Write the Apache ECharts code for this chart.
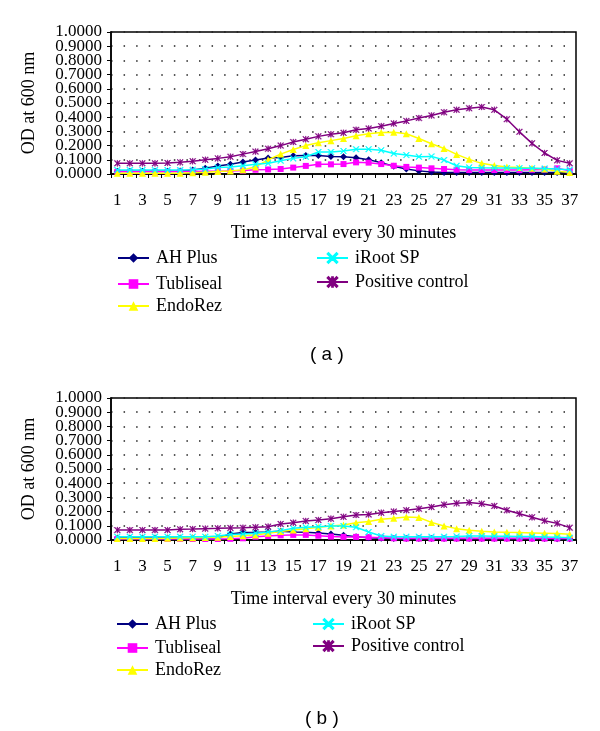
<!DOCTYPE html>
<html><head><meta charset="utf-8">
<script src="https://cdn.jsdelivr.net/npm/echarts@6/dist/echarts.min.js"></script>
<style>html,body{margin:0;padding:0;background:#fff}#c{width:600px;height:731px}</style>
</head><body><div id="c"></div>
<script>
const categories = ['1','2','3','4','5','6','7','8','9','10','11','12','13','14','15','16','17','18','19','20','21','22','23','24','25','26','27','28','29','30','31','32','33','34','35','36','37'];
const yTickLabels = ['0.0000','0.1000','0.2000','0.3000','0.4000','0.5000','0.6000','0.7000','0.8000','0.9000','1.0000'];
const seriesNames = ['AH Plus','Tubliseal','EndoRez','iRoot SP','Positive control'];

// Panel (a)
const ahPlusA = [0.02,0.02,0.02,0.02,0.02,0.022,0.028,0.04,0.056,0.069,0.085,0.098,0.112,0.117,0.128,0.131,0.13,0.124,0.122,0.115,0.1,0.08,0.055,0.035,0.022,0.014,0.01,0.01,0.01,0.01,0.01,0.01,0.01,0.01,0.01,0.01,0.009];
const tubliA = [0.015,0.015,0.015,0.015,0.016,0.017,0.018,0.019,0.02,0.022,0.024,0.03,0.032,0.035,0.045,0.057,0.068,0.068,0.07,0.082,0.08,0.07,0.058,0.05,0.045,0.04,0.035,0.03,0.028,0.028,0.028,0.028,0.028,0.03,0.032,0.04,0.022];
const endoA = [0.005,0.005,0.005,0.005,0.005,0.006,0.008,0.012,0.018,0.022,0.03,0.05,0.1,0.14,0.173,0.2,0.22,0.235,0.25,0.27,0.283,0.292,0.294,0.283,0.25,0.213,0.18,0.138,0.103,0.075,0.06,0.05,0.045,0.04,0.035,0.02,0.01];
const irootA = [0.028,0.028,0.028,0.028,0.028,0.028,0.03,0.035,0.045,0.05,0.058,0.068,0.075,0.094,0.11,0.122,0.155,0.155,0.162,0.175,0.175,0.167,0.144,0.133,0.122,0.124,0.098,0.058,0.046,0.044,0.043,0.042,0.041,0.04,0.038,0.035,0.03];
const posA = [0.075,0.075,0.075,0.075,0.078,0.082,0.09,0.1,0.11,0.122,0.14,0.158,0.178,0.2,0.225,0.245,0.265,0.28,0.29,0.311,0.32,0.337,0.356,0.374,0.394,0.412,0.435,0.452,0.463,0.472,0.452,0.386,0.297,0.216,0.148,0.096,0.075];

// Panel (b)
const ahPlusB = [0.014,0.014,0.014,0.014,0.014,0.014,0.014,0.014,0.015,0.042,0.052,0.052,0.056,0.061,0.056,0.054,0.05,0.042,0.033,0.023,0.016,0.012,0.01,0.01,0.01,0.01,0.01,0.01,0.01,0.01,0.01,0.01,0.01,0.01,0.01,0.009,0.009];
const tubliB = [0.007,0.007,0.007,0.007,0.007,0.007,0.007,0.007,0.007,0.008,0.012,0.023,0.028,0.033,0.036,0.036,0.03,0.024,0.022,0.022,0.02,0.016,0.012,0.01,0.01,0.01,0.01,0.01,0.01,0.01,0.01,0.01,0.01,0.01,0.01,0.01,0.01];
const endoB = [0.01,0.01,0.01,0.01,0.012,0.014,0.016,0.018,0.02,0.025,0.03,0.035,0.048,0.06,0.07,0.08,0.09,0.098,0.106,0.122,0.131,0.146,0.153,0.162,0.158,0.124,0.098,0.08,0.068,0.062,0.057,0.054,0.052,0.05,0.048,0.045,0.04];
const irootB = [0.023,0.023,0.023,0.023,0.023,0.023,0.023,0.023,0.028,0.038,0.042,0.047,0.056,0.066,0.082,0.089,0.094,0.099,0.099,0.09,0.056,0.028,0.023,0.023,0.023,0.023,0.023,0.025,0.028,0.028,0.027,0.026,0.025,0.024,0.022,0.02,0.016];
const posB = [0.07,0.07,0.07,0.07,0.07,0.075,0.077,0.08,0.082,0.085,0.086,0.09,0.094,0.113,0.122,0.134,0.141,0.15,0.163,0.176,0.18,0.192,0.2,0.21,0.22,0.232,0.249,0.258,0.264,0.255,0.24,0.21,0.185,0.16,0.136,0.117,0.087];

const colors = ['#000080','#FF00FF','#FFFF00','#00FFFF','#800080'];
const crossPath = 'path://M0,0.8L0.8,0L10,9.2L9.2,10Z M9.2,0L10,0.8L0.8,10L0,9.2Z';
const starPath = 'path://M0,0.8L0.8,0L10,9.2L9.2,10Z M9.2,0L10,0.8L0.8,10L0,9.2Z M4.6,0L5.4,0L5.4,10L4.6,10Z';
const symbols = ['diamond','rect','triangle',crossPath,starPath];
const symSizes = [7,6,7,6,6];
const SERIF = 'Liberation Serif';

const panels = [
  {data:[ahPlusA,tubliA,endoA,irootA,posA], top:32},
  {data:[ahPlusB,tubliB,endoB,irootB,posB], top:398}
];

const grids = [], xAxes = [], yAxes = [], series = [];
panels.forEach((p, gi) => {
  grids.push({left:111, width:465, top:p.top, height:142, show:true, borderColor:'#000', borderWidth:1.5, backgroundColor:'#fff'});
  xAxes.push({type:'category', gridIndex:gi, data:categories, boundaryGap:true,
    axisLine:{lineStyle:{color:'#000', width:1.5}},
    axisTick:{show:true, interval:0, length:4, lineStyle:{color:'#000'}},
    axisLabel:{interval:1, color:'#000', fontFamily:SERIF, fontSize:17, margin:18},
    splitLine:{show:false},
    name:'Time interval every 30 minutes', nameLocation:'middle', nameGap:50,
    nameTextStyle:{color:'#000', fontFamily:SERIF, fontSize:18}});
  // value axis (scale, ticks, grid lines)
  yAxes.push({type:'value', gridIndex:gi, position:'left', min:0, max:1, interval:0.1,
    axisLine:{show:true, lineStyle:{color:'#000', width:1.5}},
    axisTick:{show:true, length:4, lineStyle:{color:'#000'}},
    axisLabel:{show:false},
    splitLine:{show:true, lineStyle:{color:'#222', width:1.5, type:[1.5,11.07]}},
    name:'OD at 600 nm', nameLocation:'middle', nameGap:73, nameRotate:90,
    nameTextStyle:{color:'#000', fontFamily:SERIF, fontSize:18}});
});
panels.forEach((p, gi) => {
  // tick-label axis aligned with the value ticks
  yAxes.push({type:'category', gridIndex:gi, position:'left', data:yTickLabels, boundaryGap:false,
    axisLine:{show:false}, axisTick:{show:false}, splitLine:{show:false},
    axisLabel:{interval:0, color:'#000', fontFamily:SERIF, fontSize:17, margin:9}});
});
panels.forEach((p, gi) => {
  p.data.forEach((arr, si) => {
    series.push({type:'line', name:seriesNames[si], xAxisIndex:gi, yAxisIndex:gi, data:arr,
      symbol:symbols[si], symbolSize:symSizes[si], showSymbol:true, animation:false,
      lineStyle:{color:colors[si], width:1.5},
      itemStyle:{color:colors[si], borderColor:colors[si], borderWidth: si>=3 ? 0.6 : 0},
      z: 2+si});
  });
});

function legendItem(name, left, centerY){
  return {data:[name], left:left, top:centerY-13, orient:'vertical', itemWidth:31, itemHeight:12,
    selectedMode:false,
    textStyle:{color:'#000', fontFamily:SERIF, fontSize:18, padding:[0,0,0,2]}};
}
const legends = [
  legendItem('AH Plus',112,257), legendItem('Tubliseal',112,283), legendItem('EndoRez',112,305),
  legendItem('iRoot SP',311,257), legendItem('Positive control',311,281),
  legendItem('AH Plus',111,623), legendItem('Tubliseal',111,647), legendItem('EndoRez',111,669),
  legendItem('iRoot SP',307,623), legendItem('Positive control',307,645)
];

const chart = echarts.init(document.getElementById('c'), null, {renderer:'canvas'});
chart.setOption({
  backgroundColor:'#fff',
  animation:false,
  grid:grids, xAxis:xAxes, yAxis:yAxes, series:series, legend:legends,
  graphic:[
    {type:'text', left:327-17, top:353-8, style:{text:'( a )', fontFamily:'Liberation Sans', fontSize:19, fill:'#000'}},
    {type:'text', left:322-17, top:717-8, style:{text:'( b )', fontFamily:'Liberation Sans', fontSize:19, fill:'#000'}}
  ]
});
</script></body></html>
